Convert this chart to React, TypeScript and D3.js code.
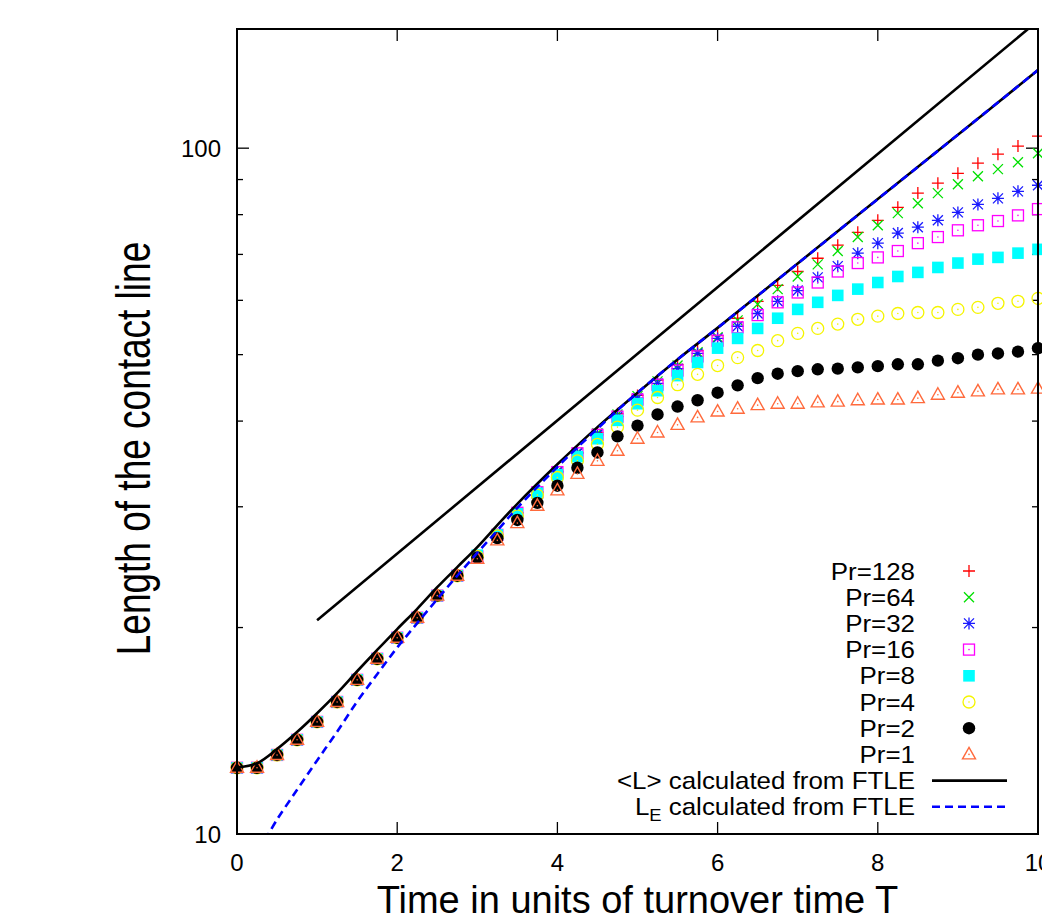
import React from 'react';
import * as d3 from 'd3';

// Sampling times (units of turnover time T)
const times = [
  0, 0.25, 0.5, 0.75, 1, 1.25, 1.5, 1.75, 2, 2.25, 2.5, 2.75, 3, 3.25, 3.5, 3.75, 4,
  4.25, 4.5, 4.75, 5, 5.25, 5.5, 5.75, 6, 6.25, 6.5, 6.75, 7, 7.25, 7.5, 7.75, 8,
  8.25, 8.5, 8.75, 9, 9.25, 9.5, 9.75, 10,
];

// Contact line length for each Prandtl number
const pr128 = [
  12.49, 12.49, 13.04, 13.72, 14.57, 15.58, 16.78, 18.01, 19.33, 20.67, 22.26, 23.8,
  25.4, 27.3, 29.4, 31.5, 33.8, 36.0, 38.5, 41.0, 43.6, 45.9, 48.4, 50.7, 53.3, 56.5,
  59.8, 63.1, 66.1, 69.1, 72.2, 75.4, 78.5, 82.0, 86.0, 88.9, 91.9, 95.1, 98.0, 100.7, 104.1,
];
const pr64 = [
  12.49, 12.49, 13.04, 13.72, 14.57, 15.58, 16.78, 18.01, 19.33, 20.67, 22.26, 23.8,
  25.4, 27.3, 29.4, 31.5, 33.8, 36.0, 38.4, 40.9, 43.5, 45.7, 48.2, 50.4, 53.0, 56.1,
  59.2, 62.3, 65.0, 67.7, 70.8, 74.2, 77.2, 80.4, 83.1, 86.0, 88.6, 91.0, 93.2, 95.4, 98.3,
];
const pr32 = [
  12.49, 12.49, 13.04, 13.72, 14.57, 15.58, 16.78, 18.01, 19.33, 20.67, 22.26, 23.8,
  25.4, 27.3, 29.4, 31.5, 33.7, 35.9, 38.2, 40.6, 43.2, 45.4, 47.7, 50.2, 52.8, 55.0,
  57.4, 59.8, 62.0, 64.8, 67.3, 70.3, 72.7, 75.2, 76.7, 78.5, 80.6, 82.8, 84.5, 86.5, 88.3,
];
const pr16 = [
  12.49, 12.49, 13.04, 13.72, 14.57, 15.58, 16.78, 18.01, 19.33, 20.67, 22.26, 23.8,
  25.4, 27.3, 29.4, 31.5, 33.7, 35.9, 38.2, 40.6, 43.0, 45.2, 47.4, 49.7, 52.4, 54.8,
  57.1, 59.6, 61.6, 63.7, 66.1, 68.0, 69.3, 70.8, 72.7, 74.2, 75.9, 77.2, 78.3, 79.8, 81.5,
];
const pr8 = [
  12.49, 12.49, 13.04, 13.72, 14.57, 15.58, 16.78, 18.01, 19.33, 20.67, 22.26, 23.8,
  25.5, 27.3, 29.3, 31.4, 33.4, 35.5, 37.7, 40.1, 42.4, 44.3, 46.6, 48.7, 51.1, 52.8,
  54.6, 56.5, 58.2, 59.6, 61.0, 62.3, 63.7, 65.0, 65.9, 67.0, 68.0, 68.9, 69.3, 70.3, 71.2,
];
const pr4 = [
  12.49, 12.49, 13.04, 13.72, 14.57, 15.58, 16.78, 18.01, 19.33, 20.67, 22.26, 23.8,
  25.4, 27.2, 29.1, 31.2, 33.1, 35.0, 37.0, 39.2, 41.5, 43.3, 45.2, 46.8, 48.2, 49.5,
  50.7, 52.4, 53.7, 54.6, 55.4, 56.3, 56.9, 57.4, 57.6, 57.6, 58.2, 58.6, 59.4, 59.8, 60.4,
];
const pr2 = [
  12.49, 12.49, 13.04, 13.72, 14.57, 15.58, 16.78, 18.01, 19.33, 20.67, 22.26, 23.8,
  25.3, 27.0, 28.7, 30.4, 32.2, 34.2, 36.0, 38.0, 39.4, 40.9, 42.0, 42.9, 44.0, 45.1,
  46.2, 46.9, 47.3, 47.6, 47.7, 47.9, 48.1, 48.4, 48.4, 49.0, 49.4, 50.0, 50.2, 50.5, 51.1,
];
const pr1 = [
  12.49, 12.49, 13.04, 13.72, 14.57, 15.58, 16.78, 18.01, 19.33, 20.67, 22.26, 23.8,
  25.2, 26.8, 28.4, 30.1, 31.7, 33.5, 35.0, 36.2, 37.7, 38.5, 39.5, 40.5, 41.3, 41.7,
  42.2, 42.4, 42.4, 42.6, 42.7, 42.9, 43.0, 43.0, 43.2, 43.7, 44.0, 44.2, 44.5, 44.5, 44.6,
];

const seriesLabels = ['Pr=128', 'Pr=64', 'Pr=32', 'Pr=16', 'Pr=8', 'Pr=4', 'Pr=2', 'Pr=1'];
const seriesValues = [pr128, pr64, pr32, pr16, pr8, pr4, pr2, pr1];
const seriesColors = ['#ff0000', '#00e000', '#1a1aff', '#ff00ff', '#00ffff', '#f5f500', '#000000', '#ff6a3c'];
const seriesMarkers = ['plus', 'cross', 'star', 'box', 'boxFilled', 'circle', 'circleFilled', 'triangle'];

// <L> calculated from FTLE
const meanLTimes = [
  0, 0.25, 0.5, 0.75, 1, 1.25, 1.5, 1.75, 2, 2.25, 2.5, 2.75, 3, 3.25, 3.5, 4, 4.5, 5,
  5.5, 6, 7, 8, 9, 10,
];
const meanLValues = [
  12.5, 12.68, 13.3, 14.08, 15.0, 16.05, 17.27, 18.55, 19.9, 21.3, 22.9, 24.5, 26.2,
  28.2, 30.3, 34.6, 39.2, 44.0, 49.2, 54.7, 67.9, 84.3, 104.6, 130,
];

// L_E calculated from FTLE
const leTimes = [
  0.35, 0.5, 0.75, 1, 1.25, 1.5, 1.75, 2, 2.25, 2.5, 2.75, 3, 3.25, 3.5, 4, 4.5, 5, 5.5,
  6, 7, 8, 9, 10,
];
const leValues = [
  9.8, 10.5, 11.6, 12.8, 14.1, 15.6, 17.1, 18.7, 20.3, 22.0, 23.8, 25.7, 27.7, 29.9,
  34.3, 39.0, 44.0, 49.2, 54.7, 67.9, 84.3, 104.6, 130,
];

// Exponential growth reference line
const refTimes = [1, 10];
const refValues = [20.5, 153.4];

const xTicks = [0, 2, 4, 6, 8, 10];
const yMajorTicks = [10, 100];
const yMinorTicks = [20, 30, 40, 50, 60, 70, 80, 90];

const FONT = '"Liberation Sans", Arial, Helvetica, sans-serif';

function Marker({ kind, cx, cy, color }: { kind: string; cx: number; cy: number; color: string }) {
  const sw = 1.3;
  const s = 6;
  const c = 5;
  const dot = <circle cx={cx} cy={cy} r={0.8} fill={color} />;
  switch (kind) {
    case 'plus':
      return (
        <path d={`M${cx - s},${cy}H${cx + s}M${cx},${cy - s}V${cy + s}`} stroke={color} strokeWidth={sw} fill="none" />
      );
    case 'cross':
      return (
        <path
          d={`M${cx - c},${cy - c}L${cx + c},${cy + c}M${cx - c},${cy + c}L${cx + c},${cy - c}`}
          stroke={color}
          strokeWidth={sw}
          fill="none"
        />
      );
    case 'star':
      return (
        <g>
          <path
            d={`M${cx - s},${cy}H${cx + s}M${cx},${cy - s}V${cy + s}M${cx - c},${cy - c}L${cx + c},${cy + c}M${cx - c},${cy + c}L${cx + c},${cy - c}`}
            stroke={color}
            strokeWidth={sw}
            fill="none"
          />
          <circle cx={cx} cy={cy} r={1.6} fill={color} />
        </g>
      );
    case 'box':
      return (
        <g>
          <rect x={cx - 5.5} y={cy - 5.5} width={11} height={11} fill="none" stroke={color} strokeWidth={sw} />
          {dot}
        </g>
      );
    case 'boxFilled':
      return <rect x={cx - 5.8} y={cy - 5.8} width={11.6} height={11.6} fill={color} />;
    case 'circle':
      return (
        <g>
          <circle cx={cx} cy={cy} r={6} fill="none" stroke={color} strokeWidth={sw} />
          {dot}
        </g>
      );
    case 'circleFilled':
      return <circle cx={cx} cy={cy} r={6.2} fill={color} />;
    case 'triangle':
    default:
      return (
        <g>
          <polygon
            points={`${cx},${cy - 7} ${cx + 6.5},${cy + 4.5} ${cx - 6.5},${cy + 4.5}`}
            fill="none"
            stroke={color}
            strokeWidth={1.4}
          />
          {dot}
        </g>
      );
  }
}

export default function App() {
  const W = 1042;
  const H = 924;
  const left = 237;
  const right = 1038;
  const top = 29;
  const bottom = 834;

  const x = d3.scaleLinear().domain([0, 10]).range([left, right]);
  const y = d3.scaleLog().domain([10, 149.2]).range([bottom, top]);

  const pathOf = (ts: number[], vs: number[], curve: d3.CurveFactory) =>
    d3
      .line<number>()
      .x((_, i) => x(ts[i]))
      .y((v) => y(v))
      .curve(curve)(vs) || '';

  const smooth = d3.curveCatmullRom.alpha(0.5);

  const legendX = 915;
  const legendTop = 571;
  const legendStep = 26.2;
  const legendFont = 24;

  return (
    <svg
      width={W}
      height={H}
      viewBox={`0 0 ${W} ${H}`}
      style={{ position: 'absolute', left: 0, top: 0, display: 'block', background: '#fff' }}
      fontFamily={FONT}
    >
      <defs>
        <clipPath id="plotClip">
          <rect x={left} y={top} width={right - left} height={bottom - top} />
        </clipPath>
      </defs>
      <rect x={0} y={0} width={W} height={H} fill="#fff" />

      {/* ticks */}
      <g stroke="#000" strokeWidth={1.3}>
        {xTicks.map((t) => (
          <g key={`xt${t}`}>
            <line x1={x(t)} x2={x(t)} y1={bottom} y2={bottom - 12} />
            <line x1={x(t)} x2={x(t)} y1={top} y2={top + 12} />
          </g>
        ))}
        {yMajorTicks.map((v) => (
          <g key={`ymt${v}`}>
            <line x1={left} x2={left + 12} y1={y(v)} y2={y(v)} />
            <line x1={right} x2={right - 12} y1={y(v)} y2={y(v)} />
          </g>
        ))}
        {yMinorTicks.map((v) => (
          <g key={`ymn${v}`}>
            <line x1={left} x2={left + 6} y1={y(v)} y2={y(v)} />
            <line x1={right} x2={right - 6} y1={y(v)} y2={y(v)} />
          </g>
        ))}
      </g>

      {/* tick labels */}
      <g fontSize={24} fill="#000">
        {xTicks.map((t) => (
          <text key={`xl${t}`} x={x(t)} y={871} textAnchor="middle">
            {t}
          </text>
        ))}
        {yMajorTicks.map((v) => (
          <text key={`yl${v}`} x={221} y={y(v) + 8.6} textAnchor="end">
            {v}
          </text>
        ))}
      </g>

      {/* axis titles */}
      <text x={(left + right) / 2} y={913} textAnchor="middle" fontSize={38} fill="#000">
        Time in units of turnover time T
      </text>
      <text
        transform={`translate(150,${(top + bottom) / 2 + 17}) scale(1.3,1) rotate(-90)`}
        textAnchor="middle"
        fontSize={37}
        fill="#000"
      >
        Length of the contact line
      </text>

      {/* data points */}
      {seriesValues.map((vals, si) => (
        <g key={seriesLabels[si]}>
          {vals.map((v, i) => (
            <Marker key={i} kind={seriesMarkers[si]} cx={x(times[i])} cy={y(v)} color={seriesColors[si]} />
          ))}
        </g>
      ))}

      {/* FTLE curves */}
      <g clipPath="url(#plotClip)" fill="none">
        <path d={pathOf(refTimes, refValues, d3.curveLinear)} stroke="#000" strokeWidth={2.6} />
        <path d={pathOf(meanLTimes, meanLValues, smooth)} stroke="#000" strokeWidth={2.6} />
        <path
          d={pathOf(leTimes, leValues, smooth)}
          stroke="#0000ff"
          strokeWidth={2.6}
          strokeDasharray="8,5"
        />
      </g>

      {/* legend */}
      <g fontSize={legendFont} fill="#000">
        {seriesLabels.map((lab, i) => {
          const cy = legendTop + i * legendStep;
          return (
            <g key={`lg${lab}`}>
              <text transform={`translate(${legendX},${cy + 8.6}) scale(1.08,1)`} textAnchor="end">
                {lab}
              </text>
              <Marker kind={seriesMarkers[i]} cx={969} cy={cy} color={seriesColors[i]} />
            </g>
          );
        })}
        <text
          transform={`translate(${legendX},${legendTop + 8 * legendStep + 8.6}) scale(1.08,1)`}
          textAnchor="end"
        >
          {'<L> calculated from FTLE'}
        </text>
        <line
          x1={932}
          x2={1007}
          y1={legendTop + 8 * legendStep}
          y2={legendTop + 8 * legendStep}
          stroke="#000"
          strokeWidth={2.6}
        />
        <text
          transform={`translate(${legendX},${legendTop + 9 * legendStep + 8.6}) scale(1.08,1)`}
          textAnchor="end"
        >
          <tspan>L</tspan>
          <tspan fontSize={17} dy={6}>E</tspan>
          <tspan dy={-6}> calculated from FTLE</tspan>
        </text>
        <line
          x1={932}
          x2={1007}
          y1={legendTop + 9 * legendStep}
          y2={legendTop + 9 * legendStep}
          stroke="#0000ff"
          strokeWidth={2.6}
          strokeDasharray="8,5"
        />
      </g>

      {/* frame */}
      <rect x={left} y={top} width={right - left} height={bottom - top} fill="none" stroke="#000" strokeWidth={2} />
    </svg>
  );
}
